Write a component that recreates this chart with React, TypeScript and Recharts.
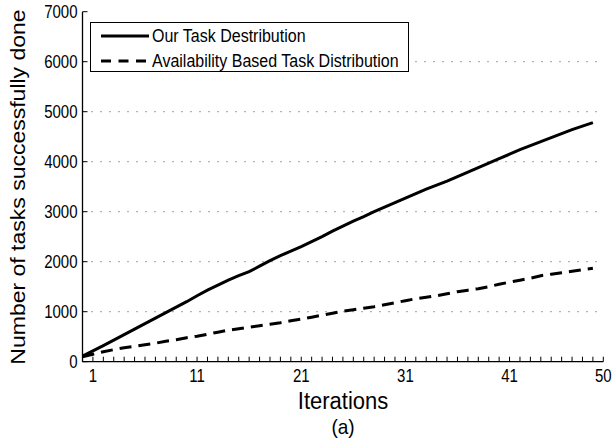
import React from 'react';
import { LineChart, Line, XAxis, YAxis, CartesianGrid } from 'recharts';

const iterations = [0, 1, 2, 3, 4, 5, 6, 7, 8, 9, 10, 11, 12, 13, 14, 15, 16, 17, 18, 19, 20, 21, 22, 23, 24, 25, 26, 27, 28, 29, 30, 31, 32, 33, 34, 35, 36, 37, 38, 39, 40, 41, 42, 43, 44, 45, 46, 47, 48, 49];
const ourTask = [110, 215, 320, 430, 540, 650, 760, 870, 980, 1090, 1200, 1320, 1430, 1530, 1630, 1720, 1800, 1910, 2020, 2120, 2210, 2300, 2400, 2500, 2610, 2710, 2810, 2900, 3000, 3090, 3180, 3270, 3360, 3450, 3530, 3610, 3700, 3790, 3880, 3970, 4060, 4150, 4240, 4320, 4400, 4480, 4560, 4640, 4710, 4780];
const availabilityTask = [100, 150, 200, 240, 280, 310, 340, 370, 410, 440, 480, 510, 550, 590, 630, 660, 690, 720, 750, 780, 820, 850, 890, 930, 970, 1010, 1040, 1070, 1100, 1140, 1180, 1220, 1260, 1290, 1320, 1360, 1400, 1430, 1460, 1500, 1550, 1590, 1630, 1670, 1720, 1750, 1780, 1810, 1840, 1870];
const xTickLabels = [1, 11, 21, 31, 41, 50];
const yTicks = [0, 1000, 2000, 3000, 4000, 5000, 6000, 7000];
const seriesNames = ['Our Task Destribution', 'Availability Based Task Distribution'];

const data = iterations.map((it, i) => ({ it, ours: ourTask[i], avail: availabilityTask[i] }));
const minorTicks = Array.from({ length: 51 }, (_, i) => i);

const FONT = '"Liberation Sans", Arial, Helvetica, sans-serif';
const TICK = 5;
const SY = 1.17;

const BottomTick = (props: any) => {
  const { x, y, payload } = props;
  const v = payload.value;
  const labeled = xTickLabels.includes(v);
  return (
    <g>
      <line x1={x} x2={x} y1={y} y2={y - TICK} stroke="#000" strokeWidth={1} />
      {labeled && (
        <text transform={`translate(${x},${y + 20}) scale(1,${SY})`} x={0} y={0} textAnchor="middle" fontFamily={FONT} fontSize={15} fill="#000">
          {v}
        </text>
      )}
    </g>
  );
};

const TopTick = (props: any) => {
  const { x, y } = props;
  return <line x1={x} x2={x} y1={y} y2={y + TICK} stroke="#000" strokeWidth={1} />;
};

const LeftTick = (props: any) => {
  const { x, y, payload } = props;
  return (
    <g>
      <line x1={x} x2={x + TICK} y1={y} y2={y} stroke="#000" strokeWidth={1} />
      <text transform={`translate(${x - 5},${y + 6.3}) scale(1,${SY})`} x={0} y={0} textAnchor="end" fontFamily={FONT} fontSize={15} fill="#000">
        {payload.value}
      </text>
    </g>
  );
};

const RightTick = (props: any) => {
  const { x, y } = props;
  return <line x1={x} x2={x - TICK} y1={y} y2={y} stroke="#000" strokeWidth={1} />;
};

const XLabel = () => (
  <g>
    <text transform={`translate(343,409) scale(1,1.05)`} x={0} y={0} textAnchor="middle" fontFamily={FONT} fontSize={22} fill="#000">Iterations</text>
    <text transform={`translate(343,434) scale(1,1.05)`} x={0} y={0} textAnchor="middle" fontFamily={FONT} fontSize={19} fill="#000">(a)</text>
  </g>
);

const YLabel = () => (
  <text transform={`translate(25,187) rotate(-90) scale(1.15,1)`} x={0} y={0} textAnchor="middle" fontFamily={FONT} fontSize={20} fill="#000">
    Number of tasks successfully done
  </text>
);

export default function App() {
  return (
    <div style={{ position: 'absolute', left: 0, top: 0, width: 615, height: 441, background: '#fff' }}>
      <LineChart width={615} height={441} data={data} margin={{ top: 11.7, right: 11.7, left: 0, bottom: 49.3 }}>
        <CartesianGrid vertical={false} horizontal stroke="#444" strokeDasharray="1 8" yAxisId="left" horizontalValues={[1000, 2000, 3000, 4000, 5000, 6000]} />
        <XAxis
          xAxisId="bottom"
          dataKey="it"
          type="number"
          domain={[0, 50]}
          ticks={minorTicks}
          interval={0}
          tickSize={0}
          tickMargin={0}
          tickLine={false}
          tick={<BottomTick />}
          axisLine={{ stroke: '#000', strokeWidth: 1.3 }}
          height={30}
          label={<XLabel />}
        />
        <XAxis
          xAxisId="top"
          orientation="top"
          dataKey="it"
          type="number"
          domain={[0, 50]}
          ticks={minorTicks}
          interval={0}
          tickSize={0}
          tickMargin={0}
          tickLine={false}
          tick={<TopTick />}
          axisLine={{ stroke: '#000', strokeWidth: 1.3 }}
          height={0}
        />
        <YAxis
          yAxisId="left"
          type="number"
          domain={[0, 7000]}
          ticks={yTicks}
          interval={0}
          tickSize={0}
          tickMargin={0}
          tickLine={false}
          tick={<LeftTick />}
          axisLine={{ stroke: '#000', strokeWidth: 1.3 }}
          width={82.5}
          label={<YLabel />}
        />
        <YAxis
          yAxisId="right"
          orientation="right"
          type="number"
          domain={[0, 7000]}
          ticks={yTicks}
          interval={0}
          tickSize={0}
          tickMargin={0}
          tickLine={false}
          tick={<RightTick />}
          axisLine={{ stroke: '#000', strokeWidth: 1.3 }}
          width={0}
        />
        <Line xAxisId="bottom" yAxisId="left" dataKey="ours" stroke="#000" strokeWidth={3} dot={false} isAnimationActive={false} />
        <Line xAxisId="bottom" yAxisId="left" dataKey="avail" stroke="#000" strokeWidth={3} strokeDasharray="12 7" dot={false} isAnimationActive={false} />
      </LineChart>
      <div
        style={{
          position: 'absolute',
          left: 90,
          top: 22,
          width: 317,
          height: 48,
          border: '1.3px solid #000',
          background: '#fff',
          fontFamily: FONT,
          fontSize: 16,
          color: '#000',
          boxSizing: 'content-box',
        }}
      >
        {seriesNames.map((name, i) => (
          <div key={name} style={{ position: 'absolute', left: 10, top: i === 0 ? 4 : 29, height: 18, display: 'flex', alignItems: 'center', whiteSpace: 'nowrap' }}>
            <svg width={48} height={6} style={{ marginRight: 3 }}>
              <line x1={0} x2={48} y1={3} y2={3} stroke="#000" strokeWidth={3} strokeDasharray={i === 0 ? undefined : '10 7.5'} />
            </svg>
            <span style={{ display: 'inline-block', transform: `scaleY(${SY})` }}>{name}</span>
          </div>
        ))}
      </div>
    </div>
  );
}
